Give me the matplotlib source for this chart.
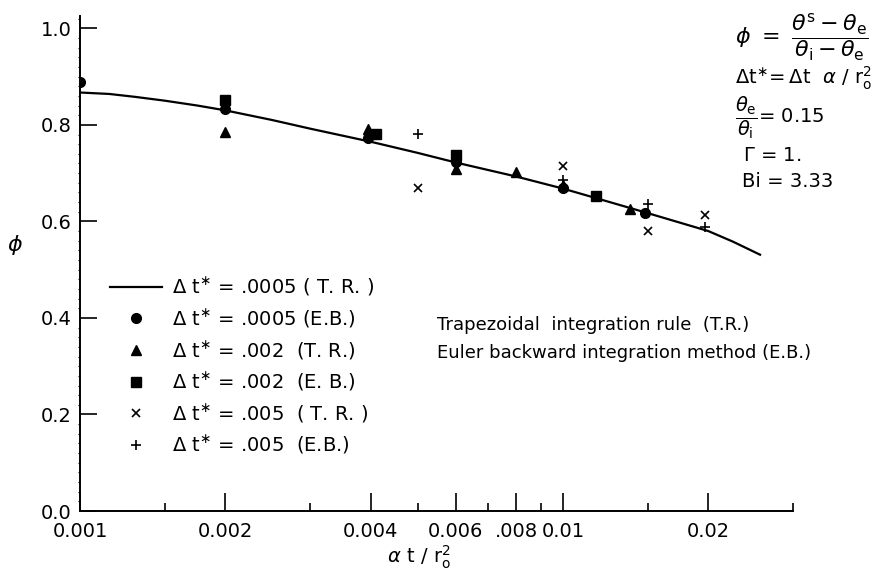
import matplotlib

matplotlib.use("Agg")
import matplotlib.pyplot as plt
from matplotlib.lines import Line2D
from matplotlib.ticker import FixedLocator, NullFormatter

# curve: dt* = .0005, trapezoidal rule
curve_x = [0.001, 0.00115, 0.0013, 0.0015, 0.00175, 0.002, 0.0025, 0.003,
           0.004, 0.005, 0.006, 0.008, 0.01, 0.0125, 0.015, 0.02, 0.0225,
           0.0256]
curve_phi = [0.867, 0.864, 0.858, 0.850, 0.840, 0.830, 0.810, 0.792,
             0.765, 0.742, 0.722, 0.693, 0.668, 0.640, 0.617, 0.580, 0.558,
             0.531]

# dt* = .0005, Euler backward
eb0005_x = [0.001, 0.002, 0.00395, 0.006, 0.01, 0.0148]
eb0005_phi = [0.889, 0.832, 0.772, 0.724, 0.670, 0.618]

# dt* = .002, trapezoidal rule
tr002_x = [0.002, 0.00395, 0.006, 0.008, 0.01, 0.0138]
tr002_phi = [0.786, 0.791, 0.709, 0.702, 0.676, 0.626]

# dt* = .002, Euler backward
eb002_x = [0.002, 0.0041, 0.006, 0.0117]
eb002_phi = [0.852, 0.781, 0.738, 0.653]

# dt* = .005, trapezoidal rule
tr005_x = [0.005, 0.01, 0.015, 0.0197]
tr005_phi = [0.669, 0.714, 0.581, 0.614]

# dt* = .005, Euler backward
eb005_x = [0.005, 0.01, 0.015, 0.0197]
eb005_phi = [0.781, 0.686, 0.637, 0.589]

major_x = [0.001, 0.002, 0.004, 0.006, 0.008, 0.01, 0.02]
major_x_labels = ["0.001", "0.002", "0.004", "0.006", ".008", "0.01", "0.02"]
minor_x = [0.0015, 0.003, 0.005, 0.007, 0.009, 0.015, 0.03]
y_ticks = [0.0, 0.2, 0.4, 0.6, 0.8, 1.0]

legend_labels = [
    r"$\Delta\ \mathrm{t}^{\ast}$ = .0005 ( T. R. )",
    r"$\Delta\ \mathrm{t}^{\ast}$ = .0005 (E.B.)",
    r"$\Delta\ \mathrm{t}^{\ast}$ = .002  (T. R.)",
    r"$\Delta\ \mathrm{t}^{\ast}$ = .002  (E. B.)",
    r"$\Delta\ \mathrm{t}^{\ast}$ = .005  ( T. R. )",
    r"$\Delta\ \mathrm{t}^{\ast}$ = .005  (E.B.)",
]

plt.rcParams["font.family"] = ["DejaVu Sans"]

fig = plt.figure(figsize=(8.85, 5.70), dpi=100)
ax = fig.add_axes([0.0904, 0.1035, 0.806, 0.868])

ax.plot(curve_x, curve_phi, color="black", lw=1.6, zorder=2)
ax.plot(eb002_x, eb002_phi, ls="none", marker="s", ms=6.5, color="black", zorder=3)
ax.plot(eb0005_x, eb0005_phi, ls="none", marker="o", ms=7, color="black", zorder=3)
ax.plot(tr002_x, tr002_phi, ls="none", marker="^", ms=7, color="black", zorder=3)
ax.plot(tr005_x, tr005_phi, ls="none", marker="x", ms=5.8, mew=1.2,
        color="black", zorder=3)
ax.plot(eb005_x, eb005_phi, ls="none", marker="+", ms=7.5, mew=1.2,
        color="black", zorder=3)

ax.set_xscale("log")
ax.set_xlim(0.001, 0.03)
ax.set_ylim(0.0, 1.025)

ax.xaxis.set_major_locator(FixedLocator(major_x))
ax.set_xticklabels(major_x_labels)
ax.xaxis.set_minor_locator(FixedLocator(minor_x))
ax.xaxis.set_minor_formatter(NullFormatter())
ax.set_yticks(y_ticks)
ax.set_yticklabels([f"{v:.1f}" for v in y_ticks])
ax.yaxis.set_minor_locator(FixedLocator([i * 0.02 for i in range(52)]))

ax.tick_params(axis="x", which="major", direction="in", length=13, width=1.2,
               labelsize=14, pad=8)
ax.tick_params(axis="x", which="minor", direction="in", length=6, width=1.2)
ax.tick_params(axis="y", which="major", direction="in", length=12, width=1.2,
               labelsize=14, pad=6)
ax.tick_params(axis="y", which="minor", direction="out", length=1.5, width=0.8)

for s in ("top", "right"):
    ax.spines[s].set_visible(False)
for s in ("left", "bottom"):
    ax.spines[s].set_linewidth(1.4)

ax.set_xlabel(r"$\alpha\ \mathrm{t}\ /\ \mathrm{r}_{\mathrm{o}}^{2}$", fontsize=14,
              labelpad=2)
ax.xaxis.set_label_coords(0.475, -0.065)
ax.set_ylabel(r"$\phi$", fontsize=16, rotation=0)
ax.yaxis.set_label_coords(-0.091, 0.513)

handles = [
    Line2D([], [], color="black", lw=1.6),
    Line2D([], [], ls="none", marker="o", ms=7, color="black"),
    Line2D([], [], ls="none", marker="^", ms=7, color="black"),
    Line2D([], [], ls="none", marker="s", ms=6.5, color="black"),
    Line2D([], [], ls="none", marker="x", ms=5.8, mew=1.2, color="black"),
    Line2D([], [], ls="none", marker="+", ms=7.5, mew=1.2, color="black"),
]
ax.legend(handles, legend_labels, loc="upper left", bbox_to_anchor=(0.042, 0.476),
          frameon=False, fontsize=14, handlelength=2.67, handletextpad=0.5,
          labelspacing=0.45, borderpad=0, borderaxespad=0)

ax.text(0.5007, 0.375, "Trapezoidal  integration rule  (T.R.)", transform=ax.transAxes,
        fontsize=13, ha="left", va="center")
ax.text(0.5007, 0.32, "Euler backward integration method (E.B.)",
        transform=ax.transAxes, fontsize=13, ha="left", va="center")

# parameter block, top right
fig.text(0.8305, 0.933,
         r"$\phi\ =\ \dfrac{\theta^{\mathrm{s}}-\theta_{\mathrm{e}}}"
         r"{\theta_{\mathrm{i}}-\theta_{\mathrm{e}}}$",
         fontsize=16, ha="left", va="center")
fig.text(0.8305, 0.863,
         r"$\Delta\mathrm{t}^{\ast}\!=\Delta\mathrm{t}\ \ \alpha\ /\ "
         r"\mathrm{r}_{\mathrm{o}}^{2}$",
         fontsize=14, ha="left", va="center")
fig.text(0.8305, 0.793,
         r"$\dfrac{\theta_{\mathrm{e}}}{\theta_{\mathrm{i}}}$= 0.15",
         fontsize=14, ha="left", va="center")
fig.text(0.8395, 0.728, r"$\Gamma$ = 1.", fontsize=14, ha="left", va="center")
fig.text(0.838, 0.681, "Bi = 3.33", fontsize=14, ha="left", va="center")

fig.savefig("out.png", dpi=100)
